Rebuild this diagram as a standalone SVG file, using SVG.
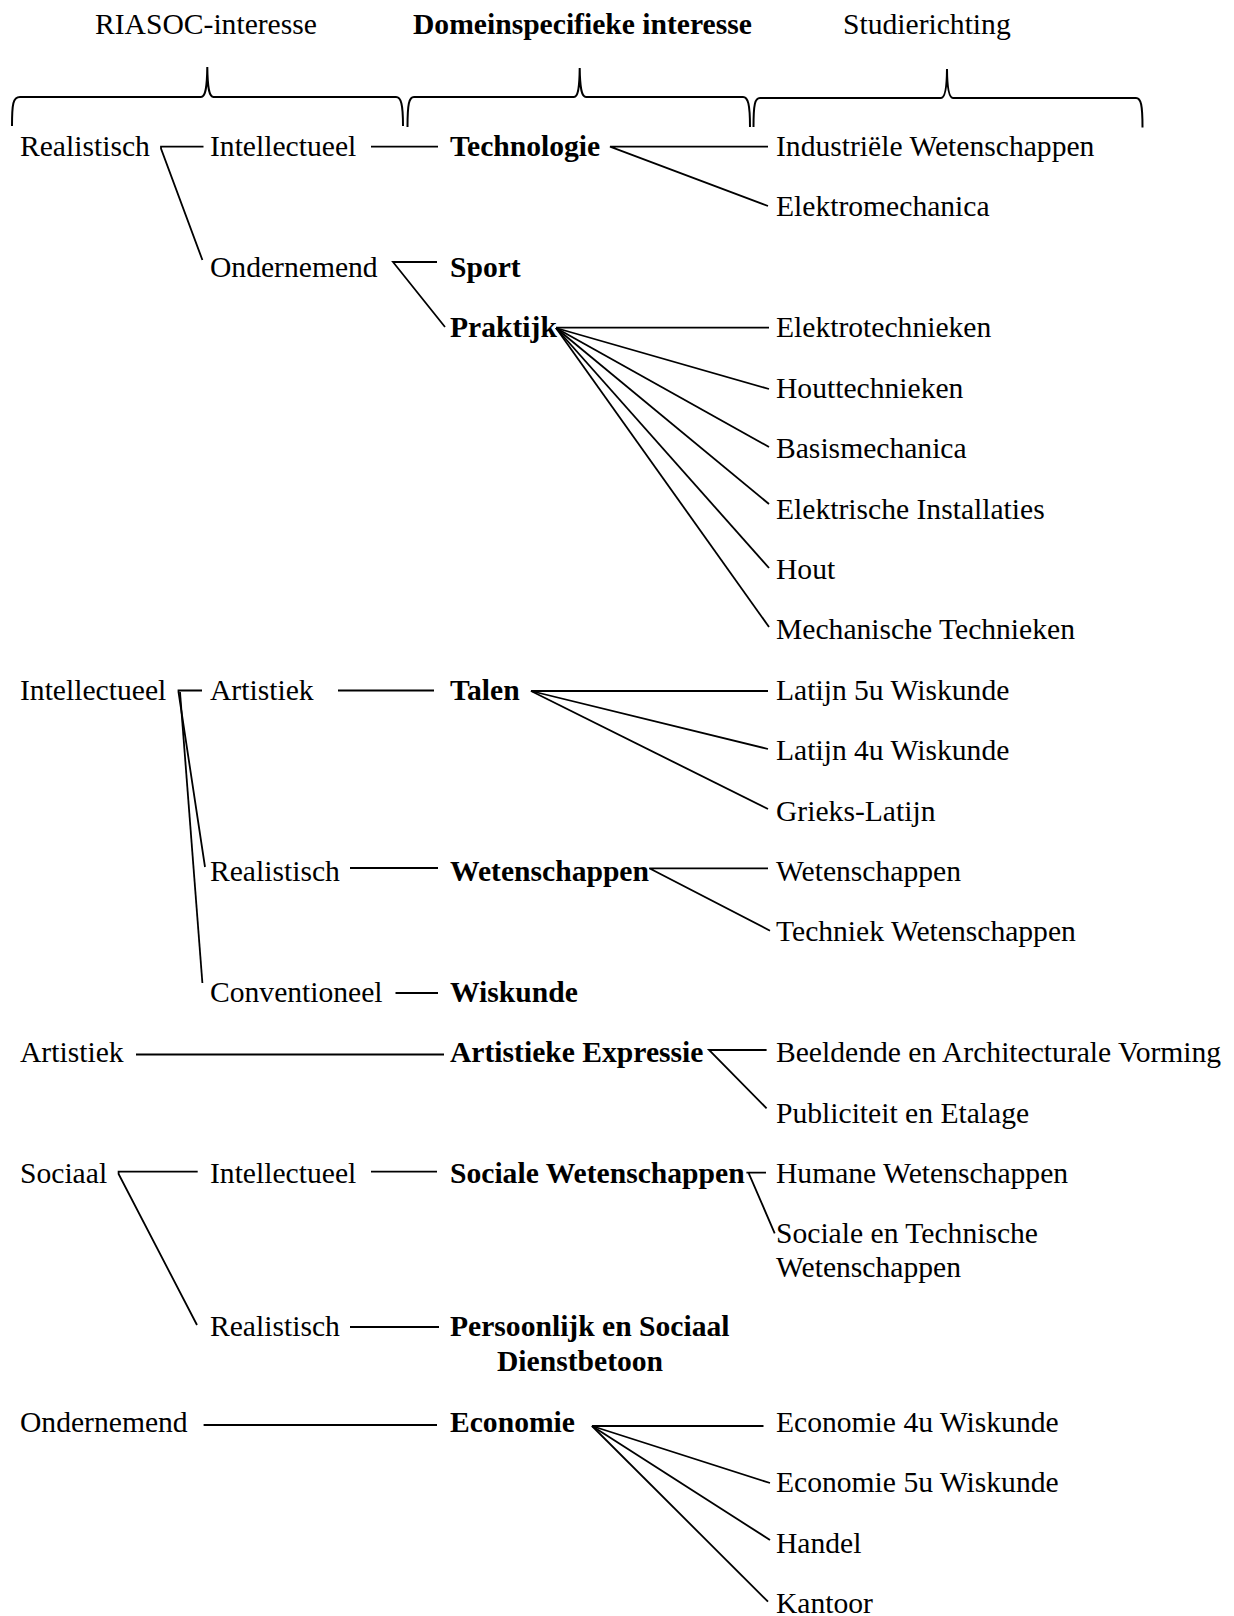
<svg xmlns="http://www.w3.org/2000/svg" width="1234" height="1616" viewBox="0 0 1234 1616">
  <style>
    text { font-family: "Liberation Serif", "Times New Roman", serif; font-size: 29.6px; fill: #000; }
    .b { font-weight: bold; }
    .ln { fill: none; stroke: #000; stroke-width: 1.8; stroke-linecap: butt; stroke-linejoin: miter; }
    .br { fill: none; stroke: #000; stroke-width: 2; }
  </style>
  <rect width="1234" height="1616" fill="#fff"/>

  <!-- column headings -->
  <g id="headings">
    <text x="95" y="34">RIASOC-interesse</text>
    <text class="b" x="413" y="34">Domeinspecifieke interesse</text>
    <text x="843" y="34">Studierichting</text>
  </g>

  <!-- curly braces under the headings -->
  <g id="braces">
    <path class="br" d="M12,126 C12,104 13,97 20,97 L201,97 C205,97 207,90 207.3,67 C207.6,90 209.5,97 213.5,97 L396,97 C401,97 403,104 403,126"/>
    <path class="br" d="M407.5,127 C407.5,104 409,97 414,97 L574,97 C577.5,97 579.5,90 579.7,68 C580,90 582,97 586,97 L743,97 C748,97 750,104 750,127"/>
    <path class="br" d="M753.5,127 C753.5,104 755,98 760,98 L941,98 C944.5,98 946.8,91 947,69 C947.2,91 949.5,98 953,98 L1136,98 C1141,98 1142.5,105 1142.5,127.5"/>
  </g>

  <!-- connectors -->
  <g id="connectors">
    <!-- RIASOC level -->
    <path class="ln" d="M203.5,146.7 H161 V148.5 L202.4,260"/>
    <path class="ln" d="M371,146.7 H438"/>
    <path class="ln" d="M437,262 H393 L445,327"/>
    <path class="ln" d="M202,690.5 H178.5 V692 L205,867"/>
    <path class="ln" d="M180,692 L202.4,983"/>
    <path class="ln" d="M338,690.5 H434"/>
    <path class="ln" d="M350,868 H438"/>
    <path class="ln" d="M395.5,993 H438"/>
    <path class="ln" d="M136,1054.5 H444"/>
    <path class="ln" d="M197.7,1171.7 H118.6 V1174 L197,1325"/>
    <path class="ln" d="M371,1171.7 H437"/>
    <path class="ln" d="M350,1327 H439"/>
    <path class="ln" d="M203.6,1425 H437"/>

    <!-- domain level to study programmes -->
    <path class="ln" d="M768,146.7 H610 L768,206"/>

    <path class="ln" d="M769,327.7 H556"/>
    <path class="ln" d="M556,328 L769,389"/>
    <path class="ln" d="M556,328 L769,447"/>
    <path class="ln" d="M556,328 L769,504"/>
    <path class="ln" d="M556,328 L769,568"/>
    <path class="ln" d="M556,328 L769,627"/>

    <path class="ln" d="M768,691 H531 L768,749"/>
    <path class="ln" d="M531,691 L768,809"/>

    <path class="ln" d="M768,868.3 H649.3 L770,930.7"/>

    <path class="ln" d="M766.6,1050 H709 L766.6,1108.3"/>

    <path class="ln" d="M766,1172.7 H746.4 M748.8,1173.3 L774.7,1233.3"/>

    <path class="ln" d="M763.5,1426 H592 L770,1483"/>
    <path class="ln" d="M592,1426 L770,1540"/>
    <path class="ln" d="M592,1426 L768,1601.7"/>
  </g>

  <!-- RIASOC nodes, first column -->
  <g id="r-realistisch"><text x="20" y="156">Realistisch</text></g>
  <g id="r-intellectueel"><text x="20" y="699.7">Intellectueel</text></g>
  <g id="r-artistiek"><text x="20" y="1062.2">Artistiek</text></g>
  <g id="r-sociaal"><text x="20" y="1183">Sociaal</text></g>
  <g id="r-ondernemend"><text x="20" y="1432.2">Ondernemend</text></g>

  <!-- RIASOC nodes, second column -->
  <g id="r2-intellectueel-1"><text x="210" y="156">Intellectueel</text></g>
  <g id="r2-ondernemend"><text x="210" y="276.8">Ondernemend</text></g>
  <g id="r2-artistiek"><text x="210" y="699.7">Artistiek</text></g>
  <g id="r2-realistisch-1"><text x="210" y="880.9">Realistisch</text></g>
  <g id="r2-conventioneel"><text x="210" y="1001.7">Conventioneel</text></g>
  <g id="r2-intellectueel-2"><text x="210" y="1183">Intellectueel</text></g>
  <g id="r2-realistisch-2"><text x="210" y="1336.4">Realistisch</text></g>

  <!-- domain-specific interests -->
  <g id="d-technologie"><text class="b" x="450" y="156">Technologie</text></g>
  <g id="d-sport"><text class="b" x="450" y="276.8">Sport</text></g>
  <g id="d-praktijk"><text class="b" x="450" y="337.2">Praktijk</text></g>
  <g id="d-talen"><text class="b" x="450" y="699.7">Talen</text></g>
  <g id="d-wetenschappen"><text class="b" x="450" y="880.9">Wetenschappen</text></g>
  <g id="d-wiskunde"><text class="b" x="450" y="1001.7">Wiskunde</text></g>
  <g id="d-artistieke-expressie"><text class="b" x="450" y="1062.2">Artistieke Expressie</text></g>
  <g id="d-sociale-wetenschappen"><text class="b" x="450" y="1183">Sociale Wetenschappen</text></g>
  <g id="d-persoonlijk"><text class="b" x="450" y="1336.4">Persoonlijk en Sociaal</text><text class="b" x="497" y="1371.4">Dienstbetoon</text></g>
  <g id="d-economie"><text class="b" x="450" y="1432.2">Economie</text></g>

  <!-- study programmes -->
  <g id="s-industriele"><text x="776" y="156">Industriële Wetenschappen</text></g>
  <g id="s-elektromechanica"><text x="776" y="216.4">Elektromechanica</text></g>
  <g id="s-elektrotechnieken"><text x="776" y="337.2">Elektrotechnieken</text></g>
  <g id="s-houttechnieken"><text x="776" y="397.6">Houttechnieken</text></g>
  <g id="s-basismechanica"><text x="776" y="458.1">Basismechanica</text></g>
  <g id="s-elektrische"><text x="776" y="518.5">Elektrische Installaties</text></g>
  <g id="s-hout"><text x="776" y="578.9">Hout</text></g>
  <g id="s-mechanische"><text x="776" y="639.3">Mechanische Technieken</text></g>
  <g id="s-latijn5"><text x="776" y="699.7">Latijn 5u Wiskunde</text></g>
  <g id="s-latijn4"><text x="776" y="760.1">Latijn 4u Wiskunde</text></g>
  <g id="s-grieks"><text x="776" y="820.5">Grieks-Latijn</text></g>
  <g id="s-wetenschappen"><text x="776" y="880.9">Wetenschappen</text></g>
  <g id="s-techniek"><text x="776" y="941.3">Techniek Wetenschappen</text></g>
  <g id="s-beeldende"><text x="776" y="1062.2">Beeldende en Architecturale Vorming</text></g>
  <g id="s-publiciteit"><text x="776" y="1122.6">Publiciteit en Etalage</text></g>
  <g id="s-humane"><text x="776" y="1183">Humane Wetenschappen</text></g>
  <g id="s-sociale-technische"><text x="776" y="1243.4">Sociale en Technische</text><text x="776" y="1276.6">Wetenschappen</text></g>
  <g id="s-economie4"><text x="776" y="1432.2">Economie 4u Wiskunde</text></g>
  <g id="s-economie5"><text x="776" y="1492.3">Economie 5u Wiskunde</text></g>
  <g id="s-handel"><text x="776" y="1552.8">Handel</text></g>
  <g id="s-kantoor"><text x="776" y="1612.6">Kantoor</text></g>
</svg>
